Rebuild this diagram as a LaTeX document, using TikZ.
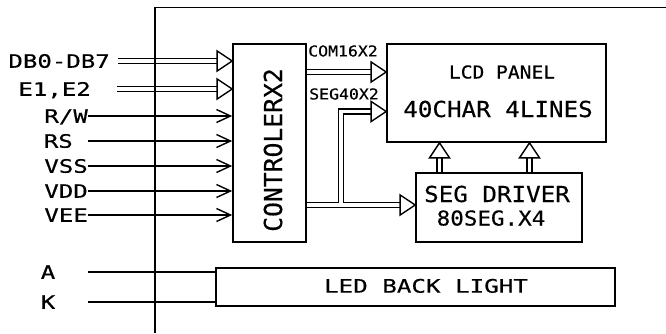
\documentclass[tikz,border=0pt]{standalone}
\usepackage{fontspec}
\usetikzlibrary{calc,arrows.meta}
\newfontfamily\cadW[FakeStretch=1.3,FakeBold=0.4]{DejaVu Sans Mono}
\newfontfamily\cadM[FakeStretch=1.1,FakeBold=0.4]{DejaVu Sans Mono}
\newfontfamily\cadN[FakeBold=0.4]{DejaVu Sans Mono}
\newcommand\fatarrow[2]{%
  \coordinate (fab) at ($(#2)!15pt!(#1)$);
  \draw[fatline] ($(#1)!2.6pt!90:(#2)$) -- ($(fab)!2.6pt!-90:(#1)$)
      ($(#1)!2.6pt!-90:(#2)$) -- ($(fab)!2.6pt!90:(#1)$);
  \draw[fatline] ($(fab)!10pt!90:(#2)$) -- (#2) -- ($(fab)!10pt!-90:(#2)$) -- cycle;
}
\begin{document}
\begin{tikzpicture}[x=1pt,y=-1pt,
  box/.style={draw,line width=1.7pt,inner sep=0pt},
  lbl/.style={inner sep=0pt,text height=13.5pt,text depth=0pt,font=\cadW\fontsize{18.5}{20}\selectfont},
  sig/.style={line width=1.4pt,-{Straight Barb[length=14pt,width=13pt,line width=1.4pt]}},
  fatline/.style={line width=1.4pt,line join=miter},
  frameline/.style={line width=1.7pt}]
\useasboundingbox (0,0) rectangle (666,333);
% frame
\coordinate (ftr) at (666,7.5);
\coordinate (ftl) at (155,7.5);
\coordinate (fbl) at (155,333);
\draw[frameline] (ftr) -- (ftl) -- (fbl);
% boxes
\node[box,minimum width=73pt,minimum height=198pt] (ctrl) at (269.5,143) {};
\node[box,minimum width=219pt,minimum height=98pt] (lcd) at (496.5,93) {};
\node[box,minimum width=166pt,minimum height=69pt] (seg) at (499,207.5) {};
\node[box,minimum width=399pt,minimum height=38pt] (led) at (415.5,287) {};
% box texts
\node[inner sep=0pt,rotate=90,text height=18pt,text depth=0pt,font=\cadN\fontsize{24.7}{26}\selectfont] (ctrltxt) at (273,150) {CONTROLERX2};
\node[inner sep=0pt,text height=13pt,text depth=0pt,font=\cadM\fontsize{17.8}{19}\selectfont] (lcdt1) at (502,72) {LCD PANEL};
\node[inner sep=0pt,text height=16pt,text depth=0pt,font=\cadM\fontsize{22}{24}\selectfont] (lcdt2) at (498,109) {40CHAR 4LINES};
\node[inner sep=0pt,text height=16pt,text depth=0pt,font=\cadM\fontsize{22}{24}\selectfont] (segt1) at (497,194) {SEG DRIVER};
\node[inner sep=0pt,text height=15pt,text depth=0pt,font=\cadM\fontsize{20.5}{22}\selectfont] (segt2) at (491,218) {80SEG.X4};
\node[inner sep=0pt,text height=13.3pt,text depth=0pt,font=\cadW\fontsize{18.6}{20}\selectfont] (ledt) at (426,286) {LED BACK LIGHT};
\node[inner sep=0pt,text height=10.9pt,text depth=0pt,font=\cadM\fontsize{15}{16}\selectfont] (comt) at (343,51) {COM16X2};
\node[inner sep=0pt,text height=10.9pt,text depth=0pt,font=\cadM\fontsize{15}{16}\selectfont] (segl) at (344,94) {SEG40X2};
% input labels
\node[lbl,anchor=east] (ldb) at (110,61) {DB0-DB7};
\node[lbl,anchor=east] (le) at (91,89) {E1,E2};
\node[lbl,anchor=east] (lrw) at (88,116) {R/W};
\node[lbl,anchor=east] (lrs) at (73,141) {RS};
\node[lbl,anchor=east] (lvss) at (88,166) {VSS};
\node[lbl,anchor=east] (lvdd) at (88,191) {VDD};
\node[lbl,anchor=east] (lvee) at (88,215) {VEE};
\node[lbl] (la) at (48,272) {A};
\node[lbl] (lk) at (48,302) {K};
% input start points
\coordinate (sdb) at (118,61);
\coordinate (se) at (117,89);
\coordinate (srw) at (88,116);
\coordinate (srs) at (88,141);
\coordinate (svss) at (88,166);
\coordinate (svdd) at (88,191);
\coordinate (svee) at (88,215);
\coordinate (sa) at (88,272);
\coordinate (sk) at (88,302);
% fat inputs
\coordinate (edb) at (ctrl.west |- sdb);
\coordinate (ee) at (ctrl.west |- se);
\fatarrow{sdb}{edb}
\fatarrow{se}{ee}
% thin inputs
\foreach \s in {srw,srs,svss,svdd,svee}{
  \draw[sig] (\s) -- (ctrl.west |- \s);
}
\draw[line width=1.4pt] (sa) -- (led.west |- sa);
\draw[line width=1.4pt] (sk) -- (led.west |- sk);
% COM16X2
\coordinate (ycom) at (0,72);
\coordinate (cs1) at (ctrl.east |- ycom);
\coordinate (ce1) at (lcd.west |- ycom);
\fatarrow{cs1}{ce1}
% SEG bus to SEG driver and LCD
\coordinate (ylo) at (0,205);
\coordinate (yhi) at (0,111.5);
\coordinate (xb) at (341,0);
\coordinate (bs) at (ctrl.east |- ylo);
\coordinate (bsegend) at (seg.west |- ylo);
\coordinate (blcdend) at (lcd.west |- yhi);
\coordinate (bj) at (xb |- ylo);
\coordinate (bk) at (xb |- yhi);
\coordinate (bh1) at ($(bsegend)+(-15,0)$);
\coordinate (bh2) at ($(blcdend)+(-15,0)$);
\draw[fatline] ($(bs)+(0,-2.6)$) -- ($(bj)+(-2.6,-2.6)$) -- ($(bk)+(-2.6,-2.6)$) -- ($(bh2)+(0,-2.6)$);
\draw[fatline] ($(bh1)+(0,-2.6)$) -- ($(bj)+(2.6,-2.6)$) -- ($(bk)+(2.6,2.6)$) -- ($(bh2)+(0,2.6)$);
\draw[fatline] ($(bs)+(0,2.6)$) -- ($(bh1)+(0,2.6)$);
\draw[fatline] ($(bh1)+(0,-10)$) -- (bsegend) -- ($(bh1)+(0,10)$) -- cycle;
\draw[fatline] ($(bh2)+(0,-10)$) -- (blcdend) -- ($(bh2)+(0,10)$) -- cycle;
% SEG driver up to LCD
\coordinate (xu1) at (439.5,0);
\coordinate (xu2) at (529.5,0);
\coordinate (u1s) at (seg.north -| xu1);
\coordinate (u1e) at (lcd.south -| xu1);
\coordinate (u2s) at (seg.north -| xu2);
\coordinate (u2e) at (lcd.south -| xu2);
\fatarrow{u1s}{u1e}
\fatarrow{u2s}{u2e}
\end{tikzpicture}
\end{document}
